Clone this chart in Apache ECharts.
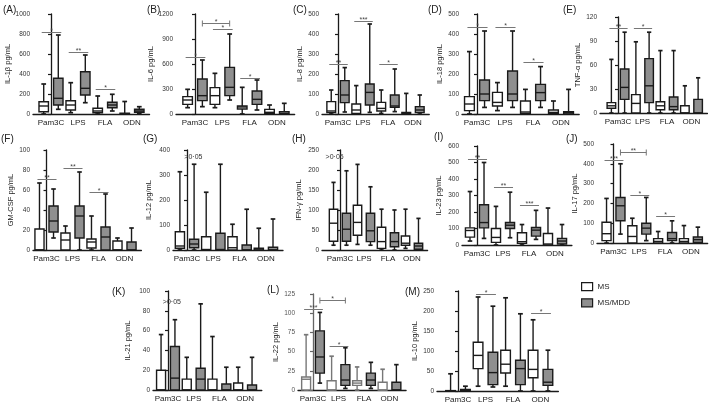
<!DOCTYPE html>
<html><head><meta charset="utf-8">
<script src="https://cdn.jsdelivr.net/npm/echarts@6/dist/echarts.min.js"></script>
<style>html,body{margin:0;padding:0;background:#fff}#c{width:709px;height:404px}</style>
</head><body><div id="c"></div>
<script>
// ---------- DATA ----------
const categories = ['Pam3C', 'LPS', 'FLA', 'ODN'];
const groups = ['MS', 'MS/MDD'];
// each row: [min, Q1, median, Q3, max] for Pam3C, LPS, FLA, ODN
const A_MS  = [[0,23,80,123,300],[13,40,90,133,313],[0,13,30,57,180],[0,0,3,8,125]];
const A_MDD = [[47,90,157,357,790],[113,190,257,423,590],[30,63,90,117,197],[7,17,30,47,73]];
const B_MS  = [[76,116,168,208,296],[76,116,220,316,488],[0,60,84,96,320],[0,8,20,56,108]];
const B_MDD = [[88,160,220,420,648],[168,220,320,560,960],[48,116,176,276,408],[0,0,8,28,128]];
const C_MS  = [[0,7,15,62,120],[0,3,20,50,142],[3,15,28,58,120],[0,0,3,8,103]];
const C_MDD = [[10,57,95,167,232],[8,45,108,150,450],[12,33,40,95,225],[0,7,20,37,95]];
const D_MS  = [[0,17,50,87,312],[17,40,58,108,157],[0,3,10,65,123],[0,3,8,20,65]];
const D_MDD = [[33,67,100,170,415],[33,67,100,215,415],[33,67,107,148,237],[0,0,7,12,123]];
const E_MS  = [[0,6,9,13,67],[0,0,12,23,89],[0,4,9,14,78],[0,0,0,9,34]];
const E_MDD = [[0,17,32,55,101],[0,13,34,68,101],[0,4,8,20,78],[0,0,0,17,44]];
const F_MS  = [[0,0,0,21,67],[0,0,10,17,24],[0,2,8,11,34],[0,0,0,9,12]];
const F_MDD = [[12,18,29,44,61],[0,12,34,44,78],[0,0,13,23,56],[0,0,0,8,22]];
const G_MS  = [[0,7,16,73,313],[0,0,2,53,231],[0,0,9,53,103],[0,0,0,7,87]];
const G_MDD = [[0,9,24,43,343],[0,0,2,67,343],[0,0,0,20,163],[0,0,0,11,124]];
const H_MS  = [[12,22,67,102,169],[14,37,69,112,214],[0,4,21,57,102],[4,12,17,35,102]];
const H_MDD = [[12,22,52,92,198],[12,21,48,92,158],[0,8,21,43,100],[0,2,10,17,79]];
const I_MS  = [[24,48,88,104,324],[0,16,46,100,234],[0,10,20,74,124],[0,0,6,70,224]];
const I_MDD = [[40,104,136,244,500],[44,100,120,136,320],[34,54,90,106,210],[0,6,24,40,124]];
const J_MS  = [[0,12,47,105,225],[0,0,33,87,125],[0,0,8,22,58],[0,0,8,22,88]];
const J_MDD = [[45,112,188,230,400],[12,45,75,100,230],[0,12,22,53,112],[0,3,17,30,80]];
const K_MS  = [[0,0,0,20,56],[0,0,0,11,33],[0,0,0,11,54],[0,0,0,7,23]];
const K_MDD = [[0,0,12,44,71],[0,0,11,22,87],[0,0,0,6,23],[0,0,0,5,33]];
const L_MS  = [[0,0,14,17,72],[0,0,0,12,44],[0,6,9,12,30],[0,0,0,10,27]];
const L_MDD = [[9,22,43,77,101],[2,6,13,33,55],[2,6,13,22,36],[0,0,0,10,33]];
const M_MS  = [[0,0,0,1,43],[12,56,89,122,235],[12,45,67,102,233],[0,33,54,102,178]];
const M_MDD = [[0,0,2,4,12],[10,16,46,97,212],[0,16,56,77,193],[0,14,22,54,102]];

// y axis: [max, interval]
const A_Y = [1000, 200], B_Y = [1200, 300], C_Y = [500, 100], D_Y = [500, 100], E_Y = [120, 30];
const F_Y = [100, 20], G_Y = [400, 100], H_Y = [250, 50], I_Y = [600, 100], J_Y = [500, 100];
const K_Y = [100, 20], L_Y = [125, 25], M_Y = [250, 50];

// significance: [cat1, group1, cat2, group2, value, label, bracket]
const A_SIG = [[0,0,0,1,820,'*'],[1,0,1,1,620,'**'],[2,0,2,1,250,'*']];
const B_SIG = [[0,0,0,1,688,'*'],[0,1,1,1,1096,'*',1],[1,0,1,1,1016,'*'],[2,0,2,1,436,'*']];
const C_SIG = [[0,0,0,1,250,'**'],[1,0,1,1,467,'***'],[2,0,2,1,250,'*']];
const D_SIG = [[0,0,0,1,433,'*'],[1,0,1,1,433,'*'],[2,0,2,1,262,'*']];
const E_SIG = [[0,0,0,1,106,'**'],[1,0,1,1,106,'*']];
const F_SIG = [[0,0,0,1,71,'**'],[1,0,1,1,82,'**'],[2,0,2,1,58,'*']];
const G_SIG = [], H_SIG = [];
const I_SIG = [[0,0,0,1,524,'**'],[1,0,1,1,350,'**'],[2,0,2,1,240,'***']];
const J_SIG = [[0,0,0,1,420,'***'],[0,1,1,1,458,'**',1],[1,0,1,1,242,'*'],[2,0,2,1,137,'*']];
const K_SIG = [];
const L_SIG = [[0,0,0,1,105,'***'],[0,1,1,1,117,'*',1],[1,0,1,1,57,'*']];
const M_SIG = [[1,0,1,1,243,'*'],[3,0,3,1,195,'*']];

// p-value notes: [x (category units), value, text]
const G_NOTE = [[-0.1, 372, '>0·05']];
const H_NOTE = [[-0.6, 232, '>0·05']];
const K_NOTE = [[-0.2, 89, '>0·05']];

const Y_NAMES = {A:'IL-1β pg/mL', B:'IL-6 pg/mL', C:'IL-8 pg/mL', D:'IL-18 pg/mL', E:'TNF-α pg/mL',
  F:'GM-CSF pg/mL', G:'IL-12 pg/mL', H:'IFN-γ pg/mL', I:'IL-23 pg/mL', J:'IL-17 pg/mL',
  K:'IL-21 pg/mL', L:'IL-22 pg/mL', M:'IL-10 pg/mL'};

// ---------- LAYOUT (pixels) ----------
const LAYOUT = {
  A:{axisX:33,  c0:51,   s:27,   top:14,  zero:114, letter:[3,5],    nd:24},
  B:{axisX:176, c0:195,  s:27.3, top:14,  zero:114, letter:[147,5],  nd:20},
  C:{axisX:322, c0:338,  s:25,   top:14,  zero:114, letter:[293,5],  nd:22},
  D:{axisX:462, c0:477,  s:28,   top:14,  zero:114, letter:[428,5],  nd:22},
  E:{axisX:600, c0:618,  s:24.5, top:17,  zero:113, letter:[563,5],  nd:19},
  F:{axisX:33,  c0:46.5, s:26,   top:150, zero:250, letter:[1,134],  nd:23},
  G:{axisX:173, c0:187,  s:26.3, top:150, zero:250, letter:[143,134],nd:25},
  H:{axisX:322, c0:340,  s:24,   top:150, zero:250, letter:[292,134],nd:24},
  I:{axisX:462, c0:477,  s:26,   top:146, zero:245, letter:[434,132],nd:24},
  J:{axisX:597, c0:613.5,s:25.8, top:144, zero:243, letter:[566,134],nd:20},
  K:{axisX:153, c0:168,  s:25.7, top:291, zero:390, letter:[112,287],nd:26},
  L:{axisX:298, c0:313,  s:25.5, top:294, zero:390, letter:[267,285],nd:17},
  M:{axisX:437, c0:458,  s:27.5, top:291, zero:391, letter:[405,287],nd:20}
};

const DATA = {
  A:[A_MS,A_MDD,A_Y,A_SIG,[]], B:[B_MS,B_MDD,B_Y,B_SIG,[]], C:[C_MS,C_MDD,C_Y,C_SIG,[]],
  D:[D_MS,D_MDD,D_Y,D_SIG,[]], E:[E_MS,E_MDD,E_Y,E_SIG,[]], F:[F_MS,F_MDD,F_Y,F_SIG,[]],
  G:[G_MS,G_MDD,G_Y,G_SIG,G_NOTE], H:[H_MS,H_MDD,H_Y,H_SIG,H_NOTE], I:[I_MS,I_MDD,I_Y,I_SIG,[]],
  J:[J_MS,J_MDD,J_Y,J_SIG,[]], K:[K_MS,K_MDD,K_Y,K_SIG,K_NOTE], L:[L_MS,L_MDD,L_Y,L_SIG,[]],
  M:[M_MS,M_MDD,M_Y,M_SIG,[]]
};

const FONT = 'Liberation Sans, Arial, sans-serif';
const INK = '#1a1a1a';
const GRAY_FILL = '#8f8f8f';
const OFF = 0.27, HALF = 0.175;
const LW = 1.4;

function boxRender(grp, stroke) {
  return function (params, api) {
    const cat = api.value(0);
    const s = api.size([1, 0])[0];
    const cx = api.coord([cat, 0])[0] + (grp === 0 ? -1 : 1) * s * OFF;
    const hw = s * HALF, cw = hw * 0.5;
    const y = [1,2,3,4,5].map(d => api.coord([cat, api.value(d)])[1]);
    const ls = {stroke: stroke, lineWidth: LW};
    return {type:'group', children:[
      {type:'line', shape:{x1:cx,y1:y[0],x2:cx,y2:y[1]}, style:ls},
      {type:'line', shape:{x1:cx,y1:y[3],x2:cx,y2:y[4]}, style:ls},
      {type:'line', shape:{x1:cx-cw,y1:y[4],x2:cx+cw,y2:y[4]}, style:{stroke:stroke,lineWidth:1.7}},
      {type:'line', shape:{x1:cx-cw,y1:y[0],x2:cx+cw,y2:y[0]}, style:{stroke:stroke,lineWidth:1.7}},
      {type:'rect', shape:{x:cx-hw, y:y[3], width:2*hw, height:Math.max(y[1]-y[3],0.5)},
        style:{fill: grp === 0 ? '#fff' : GRAY_FILL, stroke: stroke, lineWidth:LW}},
      {type:'line', shape:{x1:cx-hw,y1:y[2],x2:cx+hw,y2:y[2]}, style:{stroke:stroke,lineWidth:1.4}}
    ]};
  };
}

function sigRender(rows) {
  return function (params, api) {
    const r = rows[params.dataIndex];
    const s = api.size([1, 0])[0];
    const off = s * OFF;
    const xa = api.coord([r[0], 0])[0] + (r[1] === 0 ? -off : off);
    const xb = api.coord([r[2], 0])[0] + (r[3] === 0 ? -off : off);
    const yy = Math.round(api.coord([0, r[4]])[1]) + 0.5;
    const bracket = r[6] === 1;
    const x1 = bracket ? xa : xa - 2, x2 = bracket ? xb : xb + 3;
    const ch = [
      {type:'line', shape:{x1:x1,y1:yy,x2:x2,y2:yy}, style:{stroke:'#777', lineWidth:1}},
      {type:'text', style:{text:r[5], x:(x1+x2)/2, y:yy-1.5, align:'center', verticalAlign:'middle',
        font:'7px ' + FONT, fill:'#444'}}
    ];
    if (bracket) {
      ch.push({type:'line', shape:{x1:x1,y1:yy-3,x2:x1,y2:yy+3}, style:{stroke:'#777', lineWidth:1}});
      ch.push({type:'line', shape:{x1:x2,y1:yy-3,x2:x2,y2:yy+3}, style:{stroke:'#777', lineWidth:1}});
    }
    return {type:'group', children: ch};
  };
}

function noteRender(rows) {
  return function (params, api) {
    const r = rows[params.dataIndex];
    const p = api.coord([r[0], r[1]]);
    return {type:'text', style:{text:r[2], x:p[0], y:p[1], align:'left', verticalAlign:'middle',
      font:'7px ' + FONT, fill:'#333'}};
  };
}

const grid = [], xAxis = [], yAxis = [], series = [], graphic = [];
Object.keys(LAYOUT).forEach((id, i) => {
  const L = LAYOUT[id];
  const [ms, mdd, yax, sig, note] = DATA[id];
  const xmin = -(L.c0 - L.axisX) / L.s;
  const xmax = 3.65;
  const light = id === 'L';
  grid.push({left: L.axisX, top: L.top, width: (xmax - xmin) * L.s, height: L.zero - L.top});
  xAxis.push({type:'value', gridIndex:i, min:xmin, max:xmax,
    axisLine:{show:true, onZero:false, lineStyle:{color:INK, width:1.3}},
    axisTick:{show:false}, splitLine:{show:false},
    axisLabel:{customValues:[0,1,2,3], formatter: v => categories[Math.round(v)],
      fontSize:8, color:'#222', fontFamily:FONT, margin:5}});
  yAxis.push({type:'value', gridIndex:i, min:0, max:yax[0], interval:yax[1],
    name: Y_NAMES[id], nameLocation:'middle', nameGap: L.nd - 5,
    nameTextStyle:{fontSize:7.5, color:'#222', fontFamily:FONT},
    axisLine:{show:true, lineStyle:{color: light ? '#666' : INK, width:1.3}},
    axisTick:{show:true, length:3, lineStyle:{color: light ? '#666' : INK, width:1.2}},
    splitLine:{show:false},
    axisLabel:{fontSize:6.5, color: light ? '#555' : '#333', fontFamily:FONT, margin:3,
      formatter: v => String(v)}});
  [ms, mdd].forEach((arr, g) => {
    series.push({type:'custom', name: groups[g], xAxisIndex:i, yAxisIndex:i,
      renderItem: boxRender(g, light && g === 0 ? '#777' : INK),
      itemStyle:{color: g === 0 ? '#fff' : GRAY_FILL, borderColor: INK},
      encode:{x:0, y:[1,2,3,4,5]},
      data: arr.map((v, k) => [k].concat(v)), silent:true, clip:false});
  });
  if (sig.length) series.push({type:'custom', xAxisIndex:i, yAxisIndex:i, renderItem: sigRender(sig),
    encode:{x:0, y:4}, data: sig.map(r => r.slice(0,5)), silent:true, clip:false});
  if (note.length) series.push({type:'custom', xAxisIndex:i, yAxisIndex:i, renderItem: noteRender(note),
    encode:{x:0, y:1}, data: note.map(r => r.slice(0,2)), silent:true, clip:false});
  graphic.push({type:'text', left:L.letter[0], top:L.letter[1],
    style:{text:'(' + id + ')', font:'10px ' + FONT, fill:'#222'}});
});

const chart = echarts.init(document.getElementById('c'), null, {renderer:'canvas'});
chart.setOption({
  animation:false,
  backgroundColor:'#fff',
  grid, xAxis, yAxis, series, graphic,
  legend:{orient:'vertical', left:576, top:277, itemWidth:11, itemHeight:8, itemGap:7, icon:'rect',
    textStyle:{fontSize:8, color:'#222', fontFamily:FONT},
    data:[{name:'MS', itemStyle:{color:'#fff', borderColor:INK, borderWidth:1.2}},
          {name:'MS/MDD', itemStyle:{color:GRAY_FILL, borderColor:INK, borderWidth:1.2}}]}
});
</script></body></html>
